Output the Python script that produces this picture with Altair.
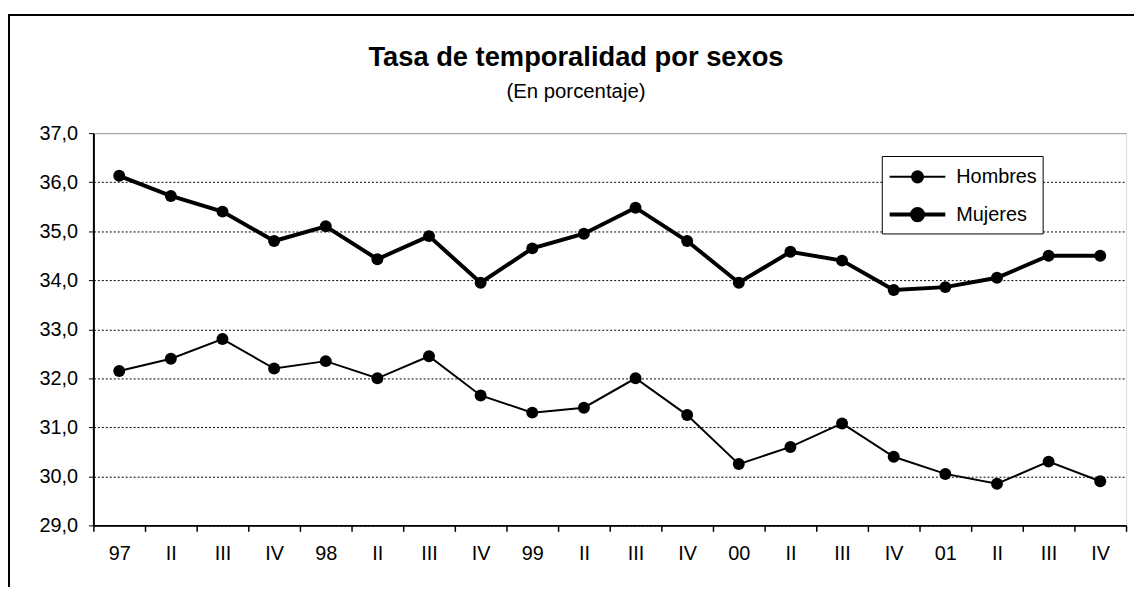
import altair as alt
import pandas as pd

years = ["97", "98", "99", "00", "01"]
quarters = ["I", "II", "III", "IV"]
keys = [f"{y} {q}" for y in years for q in quarters]

hombres = [32.15, 32.4, 32.8, 32.2, 32.35, 32.0, 32.45, 31.65, 31.3, 31.4,
           32.0, 31.25, 30.25, 30.6, 31.08, 30.4, 30.05, 29.85, 30.3, 29.9]
mujeres = [36.13, 35.72, 35.4, 34.8, 35.1, 34.43, 34.9, 33.95, 34.65, 34.95,
           35.48, 34.8, 33.95, 34.58, 34.4, 33.8, 33.86, 34.05, 34.5, 34.5]
series = ["Hombres", "Mujeres"]

rows = []
for s, vals in zip(series, [hombres, mujeres]):
    for k, v in zip(keys, vals):
        rows.append({"periodo": k, "serie": s, "valor": v})
df = pd.DataFrame(rows)

FONT = "Liberation Sans"
W, H = 1040, 395

x_enc = alt.X(
    "periodo:N", sort=keys, title=None,
    axis=alt.Axis(
        labelAngle=0, tickBand="extent", tickSize=6, tickColor="black",
        domainColor="black", domainWidth=2, tickWidth=1.5,
        labelFontSize=20, labelFont=FONT, labelColor="black", labelPadding=12,
        labelExpr="split(datum.value, ' ')[1] == 'I' ? split(datum.value, ' ')[0] : split(datum.value, ' ')[1]",
    ),
)
y_enc = alt.Y(
    "valor:Q", title=None,
    scale=alt.Scale(domain=[29, 37], nice=False, zero=False),
    axis=alt.Axis(
        values=[29, 30, 31, 32, 33, 34, 35, 36, 37],
        labelExpr="replace(format(datum.value, '.1f'), '.', ',')",
        tickSize=5, tickColor="black", domainColor="black", domainWidth=2,
        labelFontSize=20, labelFont=FONT, labelColor="black", labelPadding=11,
        grid=True,
        gridColor={"condition": {"test": "datum.value === 37", "value": "#9a9a9a"}, "value": "black"},
        gridDash={"condition": {"test": "datum.value === 37", "value": []}, "value": [2, 2]},
        gridWidth=1,
    ),
)

legend_path = ("M-0.94,0L2.8,0M0.56,0A0.373,0.373,0,1,1,1.306,0"
               "A0.373,0.373,0,1,1,0.56,0Z")

lines = alt.Chart(df).mark_line(color="black").encode(
    x=x_enc, y=y_enc,
    strokeWidth=alt.StrokeWidth(
        "serie:N", scale=alt.Scale(domain=series, range=[2, 4]),
        legend=alt.Legend(
            title=None, orient="none", legendX=794, legendY=23,
            symbolType=legend_path, symbolSize=900,
            symbolFillColor="black", symbolStrokeColor="black",
            labelFontSize=20, labelFont=FONT, labelColor="black",
            strokeColor="black", fillColor="white", padding=5,
            rowPadding=11, labelOffset=36,
        ),
    ),
    detail="serie:N",
)

points = alt.Chart(df).mark_point(filled=True, color="black", size=145, opacity=1).encode(
    x=alt.X("periodo:N", sort=keys),
    y="valor:Q",
    detail="serie:N",
)

frame = alt.Chart(alt.Data(values=[{"a": 1}])).mark_rect(
    fill=None, stroke="black", strokeWidth=2
).encode(
    x=alt.value(-85), x2=alt.value(W + 40),
    y=alt.value(-119), y2=alt.value(H + 100),
)

chart = alt.layer(frame, lines, points).properties(
    width=W, height=H,
    title=alt.TitleParams(
        text="Tasa de temporalidad por sexos",
        subtitle="(En porcentaje)",
        font=FONT, fontSize=27.5, fontWeight="bold", color="black",
        subtitleFont=FONT, subtitleFontSize=20.5, subtitleColor="black",
        subtitlePadding=11, anchor="middle", frame="group", dx=-34, offset=-89,
    ),
    autosize=alt.AutoSizeParams(type="none"),
    padding={"left": 86, "top": 124, "right": 8, "bottom": 60},
).configure_view(
    stroke="#9a9a9a", strokeWidth=1.5
).configure(background="white")

chart.save("out.html", embed_options={"renderer": "svg", "actions": False})
